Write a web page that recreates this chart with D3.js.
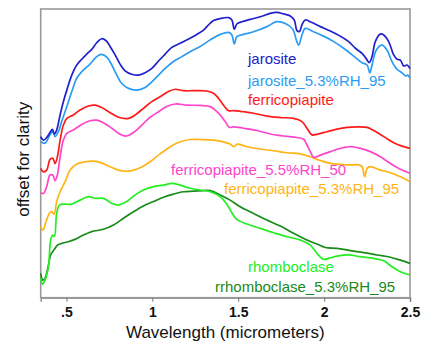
<!DOCTYPE html>
<html>
<head>
<meta charset="utf-8">
<script src="https://cdn.jsdelivr.net/npm/d3@7"></script>
<style>
  body { margin: 0; background: #fff; }
  svg { display: block; font-family: "Liberation Sans", Arial, sans-serif; }
</style>
</head>
<body>
<div id="chart"></div>
<script>
// wavelength (micrometers), reflectance + offset (arbitrary units)
var jarosite = [[0.35,0.558],[0.366,0.546],[0.385,0.555],[0.404,0.572],[0.418,0.583],[0.430,0.567],[0.443,0.581],[0.463,0.633],[0.482,0.679],[0.502,0.719],[0.531,0.771],[0.560,0.806],[0.589,0.826],[0.618,0.844],[0.647,0.860],[0.676,0.883],[0.705,0.897],[0.731,0.890],[0.754,0.870],[0.783,0.841],[0.812,0.809],[0.841,0.786],[0.880,0.774],[0.919,0.771],[0.958,0.779],[0.997,0.794],[1.036,0.820],[1.075,0.844],[1.113,0.867],[1.162,0.881],[1.211,0.896],[1.259,0.912],[1.298,0.927],[1.327,0.945],[1.356,0.960],[1.395,0.967],[1.444,0.970],[1.463,0.962],[1.477,0.930],[1.492,0.948],[1.521,0.956],[1.570,0.964],[1.628,0.973],[1.686,0.985],[1.725,0.988],[1.764,0.983],[1.803,0.976],[1.826,0.962],[1.842,0.925],[1.857,0.922],[1.871,0.945],[1.890,0.962],[1.929,0.953],[1.978,0.939],[2.036,0.924],[2.094,0.906],[2.143,0.887],[2.182,0.864],[2.221,0.846],[2.244,0.829],[2.263,0.814],[2.279,0.835],[2.298,0.887],[2.327,0.913],[2.347,0.910],[2.376,0.887],[2.405,0.841],[2.425,0.826],[2.444,0.823],[2.463,0.803],[2.483,0.806],[2.5,0.794]];

var jarosite95 = [[0.35,0.540],[0.375,0.535],[0.404,0.564],[0.420,0.575],[0.434,0.558],[0.453,0.575],[0.472,0.610],[0.502,0.662],[0.531,0.714],[0.560,0.760],[0.599,0.789],[0.637,0.809],[0.676,0.835],[0.705,0.843],[0.735,0.833],[0.764,0.806],[0.793,0.771],[0.822,0.742],[0.861,0.725],[0.909,0.719],[0.958,0.728],[0.997,0.748],[1.036,0.771],[1.075,0.794],[1.123,0.818],[1.172,0.835],[1.220,0.852],[1.278,0.870],[1.337,0.893],[1.395,0.912],[1.444,0.919],[1.463,0.910],[1.477,0.879],[1.492,0.904],[1.531,0.912],[1.589,0.921],[1.667,0.939],[1.725,0.956],[1.774,0.950],[1.818,0.930],[1.838,0.893],[1.852,0.875],[1.871,0.910],[1.890,0.933],[1.939,0.921],[1.997,0.906],[2.056,0.887],[2.114,0.864],[2.172,0.837],[2.221,0.814],[2.250,0.806],[2.266,0.779],[2.279,0.806],[2.304,0.858],[2.337,0.875],[2.366,0.858],[2.395,0.818],[2.425,0.791],[2.454,0.779],[2.473,0.768],[2.487,0.771],[2.5,0.760]];

var ferricopiapite = [[0.35,0.448],[0.366,0.436],[0.385,0.442],[0.404,0.479],[0.420,0.483],[0.434,0.465],[0.447,0.488],[0.463,0.546],[0.482,0.598],[0.502,0.621],[0.540,0.633],[0.579,0.650],[0.628,0.664],[0.667,0.667],[0.705,0.659],[0.754,0.641],[0.803,0.625],[0.861,0.621],[0.900,0.633],[0.948,0.656],[0.997,0.679],[1.045,0.696],[1.094,0.714],[1.133,0.722],[1.181,0.717],[1.240,0.717],[1.317,0.716],[1.356,0.708],[1.385,0.691],[1.414,0.667],[1.444,0.648],[1.473,0.648],[1.531,0.644],[1.589,0.639],[1.667,0.629],[1.745,0.624],[1.822,0.621],[1.871,0.610],[1.900,0.587],[1.929,0.564],[1.958,0.566],[2.016,0.575],[2.075,0.584],[2.133,0.590],[2.192,0.592],[2.250,0.590],[2.289,0.579],[2.347,0.558],[2.405,0.537],[2.454,0.525],[2.5,0.517]];

var ferricopiapite50 = [[0.35,0.364],[0.366,0.361],[0.385,0.385],[0.404,0.425],[0.420,0.425],[0.434,0.405],[0.447,0.425],[0.463,0.488],[0.482,0.546],[0.502,0.569],[0.540,0.581],[0.589,0.600],[0.637,0.613],[0.676,0.615],[0.715,0.606],[0.764,0.587],[0.812,0.566],[0.851,0.560],[0.890,0.572],[0.939,0.598],[0.987,0.625],[1.036,0.644],[1.084,0.662],[1.133,0.671],[1.201,0.667],[1.278,0.666],[1.337,0.662],[1.366,0.650],[1.395,0.633],[1.424,0.610],[1.449,0.590],[1.473,0.592],[1.531,0.587],[1.609,0.579],[1.687,0.567],[1.764,0.560],[1.842,0.555],[1.881,0.549],[1.900,0.529],[1.920,0.506],[1.939,0.486],[1.978,0.494],[2.036,0.506],[2.094,0.517],[2.153,0.523],[2.211,0.517],[2.269,0.506],[2.328,0.488],[2.386,0.465],[2.444,0.445],[2.5,0.431]];

var ferricopiapite95 = [[0.35,0.246],[0.362,0.234],[0.381,0.263],[0.400,0.292],[0.414,0.298],[0.428,0.289],[0.443,0.333],[0.463,0.367],[0.492,0.402],[0.521,0.442],[0.560,0.463],[0.608,0.471],[0.657,0.473],[0.705,0.467],[0.764,0.451],[0.822,0.439],[0.880,0.440],[0.929,0.450],[0.987,0.471],[1.045,0.498],[1.104,0.523],[1.162,0.540],[1.220,0.548],[1.278,0.548],[1.356,0.546],[1.414,0.540],[1.453,0.532],[1.473,0.523],[1.496,0.532],[1.550,0.523],[1.628,0.515],[1.706,0.509],[1.784,0.502],[1.861,0.498],[1.920,0.488],[1.978,0.475],[2.036,0.465],[2.094,0.462],[2.153,0.460],[2.201,0.460],[2.221,0.454],[2.236,0.419],[2.250,0.448],[2.269,0.454],[2.328,0.442],[2.386,0.433],[2.444,0.419],[2.5,0.402]];

var rhomboclase = [[0.35,0.067],[0.360,0.047],[0.375,0.061],[0.395,0.107],[0.408,0.200],[0.420,0.217],[0.430,0.212],[0.443,0.292],[0.459,0.321],[0.492,0.324],[0.531,0.324],[0.579,0.338],[0.628,0.350],[0.667,0.344],[0.715,0.344],[0.764,0.327],[0.803,0.321],[0.851,0.333],[0.900,0.356],[0.948,0.373],[1.007,0.385],[1.065,0.390],[1.113,0.396],[1.162,0.390],[1.220,0.379],[1.278,0.373],[1.337,0.367],[1.395,0.350],[1.434,0.324],[1.463,0.294],[1.492,0.271],[1.550,0.255],[1.628,0.240],[1.706,0.225],[1.784,0.211],[1.861,0.200],[1.920,0.182],[1.958,0.154],[1.997,0.133],[2.026,0.136],[2.075,0.144],[2.143,0.148],[2.211,0.142],[2.289,0.136],[2.347,0.128],[2.395,0.107],[2.444,0.090],[2.5,0.079]];

var rhomboclase95 = [[0.35,0.084],[0.362,0.061],[0.375,0.067],[0.395,0.113],[0.408,0.148],[0.424,0.163],[0.434,0.171],[0.447,0.182],[0.472,0.188],[0.511,0.194],[0.550,0.202],[0.599,0.217],[0.647,0.229],[0.715,0.237],[0.774,0.252],[0.832,0.275],[0.890,0.298],[0.948,0.318],[1.007,0.333],[1.065,0.348],[1.123,0.359],[1.181,0.367],[1.240,0.369],[1.298,0.371],[1.337,0.371],[1.395,0.356],[1.453,0.338],[1.511,0.315],[1.589,0.292],[1.667,0.269],[1.745,0.248],[1.822,0.223],[1.900,0.200],[1.958,0.186],[2.007,0.174],[2.075,0.171],[2.153,0.163],[2.230,0.156],[2.308,0.148],[2.386,0.140],[2.444,0.130],[2.5,0.119]];

var seriesNames = ["jarosite", "jarosite_5.3%RH_95", "ferricopiapite", "ferricopiapite_5.5%RH_50",
                   "ferricopiapite_5.3%RH_95", "rhomboclase", "rrhomboclase_5.3%RH_95"];
var seriesValues = [jarosite, jarosite95, ferricopiapite, ferricopiapite50, ferricopiapite95, rhomboclase, rhomboclase95];
var xTicks = [0.5, 1, 1.5, 2, 2.5];
var xTickLabels = [".5", "1", "1.5", "2", "2.5"];

var colors = ["#2020cc", "#2a9cf5", "#ff1a1a", "#ff44cc", "#ffb414", "#22ee22", "#1a8a1a"];
// label positions (px)
var labelPos = [[248, 64], [248, 86], [248, 105], [171, 175], [224, 194], [248, 272], [215, 292]];

var width = 430, height = 342;
var margin = {top: 9, right: 20, bottom: 44.3, left: 40.7};

var svg = d3.select("#chart").append("svg")
    .attr("width", width)
    .attr("height", height);

var x = d3.scaleLinear().domain([0.35, 2.5]).range([margin.left, width - margin.right]);
var y = d3.scaleLinear().domain([0, 1]).range([height - margin.bottom, margin.top]);

var line = d3.line()
    .x(function(d) { return x(d[0]); })
    .y(function(d) { return y(d[1]); })
    .curve(d3.curveCatmullRom.alpha(0.5));

// frame
svg.append("rect")
    .attr("x", x(0.35))
    .attr("y", y(1))
    .attr("width", x(2.5) - x(0.35))
    .attr("height", y(0) - y(1))
    .attr("fill", "none")
    .attr("stroke", "#999")
    .attr("stroke-width", 1.6);

// draw in reverse so blue ends up on top
for (var i = seriesValues.length - 1; i >= 0; i--) {
  svg.append("path")
      .datum(seriesValues[i])
      .attr("fill", "none")
      .attr("stroke", colors[i])
      .attr("stroke-width", 1.7)
      .attr("stroke-linejoin", "round")
      .attr("d", line);
}

var xAxis = svg.append("g")
    .attr("transform", "translate(0," + y(0) + ")")
    .call(d3.axisBottom(x)
        .tickValues(xTicks)
        .tickSize(4)
        .tickPadding(5)
        .tickFormat(function(d, i) { return xTickLabels[i]; }));
xAxis.select(".domain").attr("stroke", "#999").attr("stroke-width", 1.6);
xAxis.selectAll(".tick line").attr("stroke", "#777");
xAxis.selectAll(".tick text")
    .attr("font-size", 14)
    .attr("font-weight", "bold")
    .attr("font-family", "Liberation Sans, Arial, sans-serif")
    .attr("fill", "#111");

svg.append("text")
    .attr("x", (x(0.35) + x(2.5)) / 2)
    .attr("y", 338)
    .attr("text-anchor", "middle")
    .attr("font-size", 17)
    .attr("fill", "#111")
    .text("Wavelength (micrometers)");

svg.append("text")
    .attr("transform", "translate(29," + ((y(0) + y(1)) / 2 + 6) + ") rotate(-90)")
    .attr("text-anchor", "middle")
    .attr("font-size", 17)
    .attr("fill", "#111")
    .text("offset for clarity");

svg.selectAll(".lbl")
    .data(seriesNames)
    .enter()
    .append("text")
    .attr("class", "lbl")
    .attr("x", function(d, i) { return labelPos[i][0]; })
    .attr("y", function(d, i) { return labelPos[i][1]; })
    .attr("font-size", 15)
    .attr("fill", function(d, i) { return colors[i]; })
    .text(function(d) { return d; });
</script>
</body>
</html>
